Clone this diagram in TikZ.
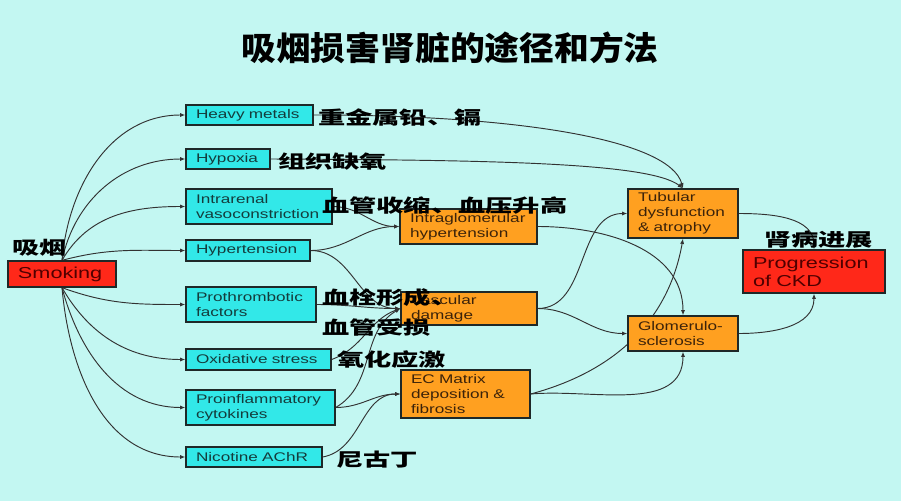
\documentclass[tikz,border=0pt]{standalone}
\usepackage{fontspec}
\usetikzlibrary{arrows.meta}
\setmainfont{Liberation Sans}
\newfontfamily\boxfont{Liberation Sans}[FakeStretch=1.37]
\newfontfamily\cjkfont{Noto Sans CJK SC}[FakeStretch=1.5]
\newfontfamily\titlefont{Noto Sans CJK SC}[FakeStretch=1.06]
\definecolor{bgc}{RGB}{195,247,242}
\definecolor{cyanbox}{RGB}{50,232,232}
\definecolor{orangebox}{RGB}{255,160,32}
\definecolor{redbox}{RGB}{255,40,25}
\definecolor{boxline}{RGB}{30,40,40}
\definecolor{edgec}{RGB}{50,50,50}
\definecolor{cyantext}{RGB}{20,60,60}
\definecolor{orangetext}{RGB}{60,35,10}
\definecolor{redtext}{RGB}{80,0,0}
\pgfdeclarelayer{background}
\pgfsetlayers{background,main}
\begin{document}
\begin{tikzpicture}[x=0.03cm,y=-0.03cm,
  edge/.style={draw=edgec, line width=0.8pt, -{Latex[length=4.5pt,width=3.5pt]}},
  bx/.style={draw=boxline, line width=1.1pt, inner xsep=0.3cm, inner ysep=0pt, align=left, font=\boxfont\fontsize{10.7}{12.8}\selectfont},
  cy/.style={bx, fill=cyanbox, text=cyantext},
  og/.style={bx, fill=orangebox, text=orangetext},
  rd/.style={bx, fill=redbox, text=redtext, font=\boxfont\fontsize{13.5}{15.5}\selectfont},
  zh/.style={font=\cjkfont\bfseries\fontsize{15.5}{17}\selectfont, text=black, anchor=west, inner sep=0pt},
  sz/.style 2 args={text width=#1cm, minimum height=#2*0.03cm}]
\begin{pgfonlayer}{background}
\fill[bgc] (0,0) rectangle (901,501);
\end{pgfonlayer}
\useasboundingbox (0,0) rectangle (901,501);

\node[font=\titlefont\bfseries\fontsize{28}{30}\selectfont] (title) at (450,48) {吸烟损害肾脏的途径和方法};

\node[rd, sz={2.64}{26}] (smk) at (62,274) {Smoking};
\node[cy, sz={3.21}{20}] (hm) at (249.5,115) {Heavy metals};
\node[cy, sz={1.92}{20}] (hyp) at (228,159) {Hypoxia};
\node[cy, sz={3.78}{35}] (ivc) at (259,206.5) {Intrarenal\\vasoconstriction};
\node[cy, sz={3.12}{21}] (ht) at (248,250.5) {Hypertension};
\node[cy, sz={3.3}{35}] (pt) at (251,304.5) {Prothrombotic\\factors};
\node[cy, sz={3.75}{21}] (ox) at (258.5,359.5) {Oxidative stress};
\node[cy, sz={3.87}{35}] (pc) at (260.5,407.5) {Proinflammatory\\cytokines};
\node[cy, sz={3.48}{20}] (na) at (254,457) {Nicotine AChR};
\node[og, sz={3.51}{35}] (igh) at (468.5,226.5) {Intraglomerular\\hypertension};
\node[og, sz={3.48}{33}] (vd) at (469,308.5) {Vascular\\damage};
\node[og, sz={3.27}{48}] (ecm) at (465.5,394) {EC Matrix\\deposition \&\\fibrosis};
\node[og, sz={2.7}{49}] (tub) at (683,213.5) {Tubular\\dysfunction\\\& atrophy};
\node[og, sz={2.7}{35}] (gs) at (683,333.5) {Glomerulo-\\sclerosis};
\node[rd, sz={3.66}{43}] (ckd) at (814,271.5) {Progression\\of CKD};

\node[zh] (l0) at (12,248) {吸烟};
\node[zh] (l1) at (318,118) {重金属铅、镉};
\node[zh] (l2) at (278,162) {组织缺氧};
\node[zh] (l3) at (322,206) {血管收缩、血压升高};
\node[zh] (l4) at (322,298) {血栓形成、};
\node[zh] (l5) at (322,328) {血管受损};
\node[zh] (l6) at (337,360) {氧化应激};
\node[zh] (l7) at (336,460) {尼古丁};
\node[zh] (l8) at (764,240) {肾病进展};

\begin{pgfonlayer}{background}
\draw[edge] (smk.north) to[out=85,in=180] (hm.west);
\draw[edge] (smk.north) to[out=78,in=180] (hyp.west);
\draw[edge] (smk.north) to[out=60,in=180] (ivc.west);
\draw[edge] (smk.north) to[out=15,in=180] (ht.west);
\draw[edge] (smk.south) to[out=-20,in=180] (pt.west);
\draw[edge] (smk.south) to[out=-60,in=180] (ox.west);
\draw[edge] (smk.south) to[out=-75,in=180] (pc.west);
\draw[edge] (smk.south) to[out=-85,in=180] (na.west);
\draw[edge] (hm.east) .. controls (520,115) and (670,140) .. (tub.north);
\draw[edge] (hyp.east) .. controls (500,160) and (650,163) .. (tub.north);
\draw[edge] (ivc.east) to[out=0,in=180] (igh.west);
\draw[edge] (ht.east) to[out=0,in=180] (igh.west);
\draw[edge] (ht.east) to[out=0,in=180] (vd.west);
\draw[edge] (pt.east) to[out=0,in=180] (vd.west);
\draw[edge] (ox.east) to[out=20,in=200] (vd.west);
\draw[edge] (pc.east) to[out=30,in=210] (vd.west);
\draw[edge] (pc.east) to[out=0,in=180] (ecm.west);
\draw[edge] (na.east) to[out=10,in=180] (ecm.west);
\draw[edge] (igh.east) to[out=0,in=90] (gs.north);
\draw[edge] (vd.east) to[out=0,in=180] (tub.west);
\draw[edge] (vd.east) to[out=0,in=180] (gs.west);
\draw[edge] (ecm.east) to[out=15,in=-100] (tub.south);
\draw[edge] (ecm.east) to[out=5,in=-90] (gs.south);
\draw[edge] (tub.east) to[out=0,in=90] (ckd.north);
\draw[edge] (gs.east) to[out=0,in=-90] (ckd.south);
\end{pgfonlayer}
\end{tikzpicture}
\end{document}
